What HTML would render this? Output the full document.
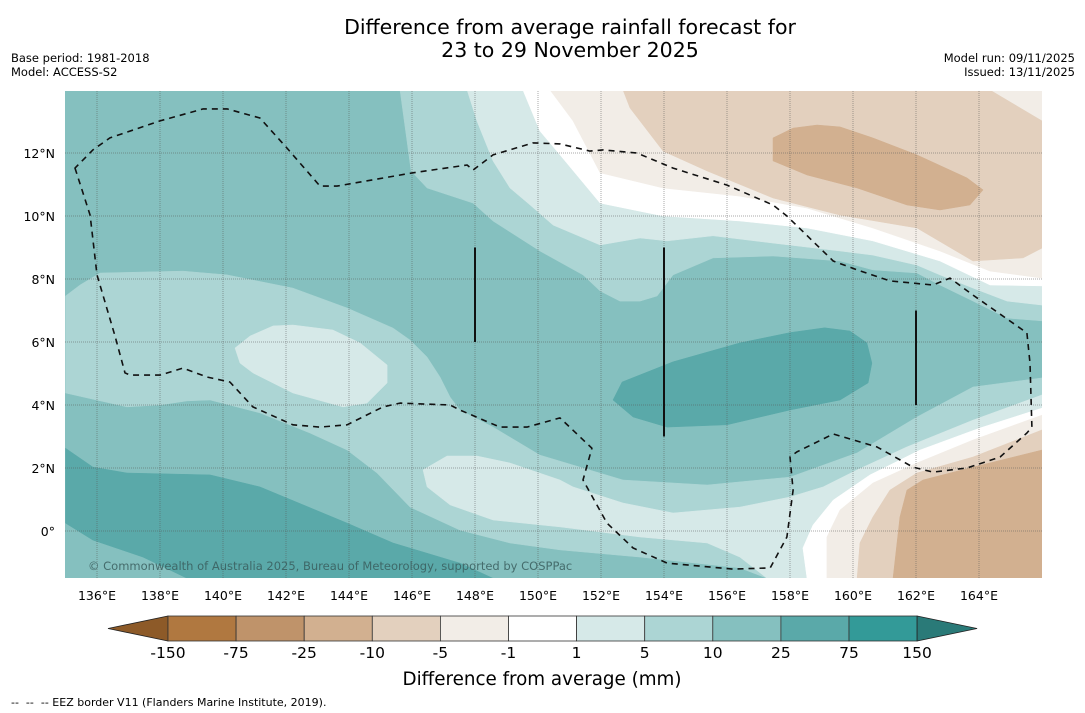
<!DOCTYPE html>
<html><head><meta charset="utf-8"><style>
html,body{margin:0;padding:0;background:#fff;}
svg{display:block;font-family:"DejaVu Sans","Liberation Sans",sans-serif;}
</style></head><body>
<svg id="chart" width="1085" height="713" viewBox="0 0 1085 713">
<defs><clipPath id="mapclip"><rect x="65" y="91" width="977" height="487"/></clipPath></defs>
<text x="570" y="34" font-size="20.5" text-anchor="middle" fill="#000">Difference from average rainfall forecast for</text>
<text x="570" y="57" font-size="20.5" text-anchor="middle" fill="#000">23 to 29 November 2025</text>
<text x="11" y="62" font-size="11.5" fill="#000">Base period: 1981-2018</text>
<text x="11" y="76" font-size="11.5" fill="#000">Model: ACCESS-S2</text>
<text x="1075" y="62" font-size="11.5" text-anchor="end" fill="#000">Model run: 09/11/2025</text>
<text x="1075" y="76" font-size="11.5" text-anchor="end" fill="#000">Issued: 13/11/2025</text>
<g id="map" clip-path="url(#mapclip)"></g>
<g id="axes"></g>
<g id="cbar"></g>
<text x="542" y="685" font-size="18.3" text-anchor="middle" fill="#000">Difference from average (mm)</text>
<text x="11" y="706" font-size="11" fill="#000" style="white-space:pre">--  --  -- EEZ border V11 (Flanders Marine Institute, 2019).</text>
</svg>
<script>
const lonTicks=[136,138,140,142,144,146,148,150,152,154,156,158,160,162,164];
const latTicks=[0,2,4,6,8,10,12];
const cbarLabels=["-150","-75","-25","-10","-5","-1","1","5","10","25","75","150"];
const cbarColors=["#b07840","#bf936a","#d2b090","#e3d0be","#f2ede7","#ffffff","#d6e9e8","#acd5d4","#85c0bf","#5aa9a9","#339a98"];
const upper510=[[145.62,14],[145.97,11.43],[146.48,10.89],[147.94,10.41],[148.57,9.84],[150.06,8.89],[151.43,8.13],[151.97,7.62],[152.6,7.3],[153.24,7.3],[153.78,7.46],[154.29,8.13],[155.56,8.67],[157.46,8.73],[159.59,8.57],[160.63,8.29],[162.03,8.19],[162.76,7.81],[163.81,7.3],[164.89,6.76],[166,6.67],[166,14]];
const upper15=[[147.75,14],[148.06,13.02],[148.57,11.75],[149.11,10.89],[149.75,10.35],[150.48,9.71],[151.97,9.08],[153.24,9.3],[154.1,9.21],[155.56,9.37],[157.46,9.14],[159.59,8.89],[160.63,8.76],[162.03,8.44],[162.76,8.13],[163.81,7.71],[164.89,7.3],[166,7.17],[166,14]];
const upperWhite=[[149.52,14],[150.06,12.7],[150.7,11.94],[151.97,10.41],[153.97,10],[156.41,9.84],[158.54,9.62],[160.63,9.21],[162.76,8.57],[164.35,7.81],[166,7.78],[166,14]];
const upperBeige=[[150.38,14],[151.11,13.02],[151.97,11.37],[153.97,10.89],[156.41,10.63],[158.54,10.25],[160.63,9.62],[162.76,8.89],[164.35,8.25],[166,8.03],[166,14]];
const upperTan=[[152.7,14],[152.92,13.43],[153.97,12.06],[155.37,11.43],[157.46,10.57],[159.59,10.03],[162.03,9.62],[163.81,8.57],[165.4,8.67],[166,8.98],[166,13.02],[164.35,14]];
const upperTanDark=[[157.46,12.48],[158.1,12.79],[158.86,12.89],[159.59,12.83],[160.63,12.48],[162.03,11.94],[163.62,11.21],[164.13,10.83],[163.71,10.35],[162.76,10.19],[161.71,10.35],[160.13,10.89],[158.54,11.3],[157.46,11.75]];
const mid510=[[135,7.46],[135.46,7.81],[136.1,8.19],[138.73,8.25],[140.13,8.13],[142.22,7.71],[143.94,7.08],[145.4,6.44],[145.94,6.06],[146.48,5.52],[146.89,4.89],[147.21,4.25],[147.52,3.84],[148.57,3.3],[150.06,2.41],[152.7,1.62],[155.37,1.46],[158,1.71],[160.13,2.48],[162.03,3.62],[163.81,4.57],[166,4.86],[166,-1.5],[157.27,-1.5],[156.41,-1.17],[153.24,-0.83],[150.7,-0.6],[149.11,-0.38],[147.52,0.03],[145.94,0.76],[144.89,1.84],[143.94,2.57],[142.76,3.11],[141.17,3.75],[139.59,4.16],[138.86,4.13],[138,4],[136.95,3.94],[135,4.38]];
const leftBlob15=[[140.86,6.19],[141.59,6.51],[142.22,6.54],[143.49,6.38],[144.35,5.97],[145.21,5.27],[145.21,4.7],[144.57,4.06],[143.81,3.94],[142.22,4.38],[140.95,5.02],[140.54,5.33],[140.38,5.81]];
const lower15=[[146.35,1.94],[147.11,2.38],[148.06,2.38],[149.11,2.16],[150.7,1.62],[151.11,1.4],[152.7,0.89],[154.29,0.57],[156.41,0.76],[158,1.08],[159.05,1.4],[160.13,1.94],[161.71,2.67],[163.81,3.52],[166,4.32],[166,-1.5],[157.27,-1.5],[156.41,-0.83],[155.37,-0.38],[153.24,-0.19],[150.7,0.13],[148.57,0.35],[147.21,0.83],[146.48,1.4]];
const lowerWhite=[[158.54,-1.5],[158.41,-0.54],[158.73,0.19],[159.37,0.98],[160.54,1.78],[162.13,2.57],[164.03,3.27],[166,3.9],[166,-1.5]];
const lowerBeige=[[159.17,-1.5],[159.17,-0.19],[159.59,0.67],[160.63,1.52],[162.03,2.16],[163.81,2.89],[166,3.68],[166,-1.5]];
const lowerTan=[[160.13,-1.5],[160.22,-0.38],[160.63,0.44],[161.17,1.3],[162.03,1.84],[163.81,2.35],[166,3.21],[166,-1.5]];
const lowerTanDark=[[161.27,-1.5],[161.49,0.44],[161.71,1.3],[162.22,1.62],[163.81,2.03],[166,2.57],[166,-1.5]];
const bottom2575=[[135,2.63],[135.87,2.03],[136.95,1.84],[139.59,1.78],[141.17,1.4],[143.94,0.25],[145.4,-0.38],[147.52,-1.02],[148.57,-1.5],[138.86,-1.5],[137.46,-0.83],[135.87,-0.29],[135,0.25]];
const centerBlob2575=[[152.38,4.16],[152.67,4.73],[154.29,5.37],[156.41,5.97],[158,6.3],[159.1,6.45],[159.9,6.35],[160.44,5.97],[160.6,5.33],[160.48,4.7],[159.59,4.16],[158,3.84],[156,3.37],[154.1,3.3],[153.02,3.62]];
const eezBorder=[[135.3,11.52],[135.78,10.03],[136,8.13],[136.57,6.19],[136.89,5.02],[137.05,4.95],[138,4.95],[138.73,5.17],[139.49,4.89],[140.22,4.73],[140.95,3.94],[142.22,3.37],[143.08,3.3],[143.94,3.37],[145.08,3.94],[145.62,4.06],[147.21,4],[147.52,3.84],[148.79,3.3],[149.65,3.3],[150.7,3.59],[151.71,2.63],[151.43,1.62],[152.19,0.25],[153.02,-0.54],[154.1,-1.02],[156.19,-1.21],[157.37,-1.17],[157.9,-0.19],[158.1,1.3],[158,2.35],[158.22,2.51],[159.37,3.08],[160.76,2.67],[161.9,2.03],[162.54,1.87],[163.62,2.0],[164.67,2.35],[165.52,3.11],[165.68,3.3],[165.62,5.33],[165.52,6.29],[163.81,7.49],[163.08,8.03],[162.54,7.81],[161.17,7.94],[160.13,8.29],[159.37,8.57],[157.9,10.0],[157.46,10.35],[156,10.98],[154.29,11.52],[153.14,12],[152.06,12.1],[151.65,12.06],[150.7,12.29],[149.84,12.32],[148.57,11.94],[147.94,11.46],[147.75,11.62],[146.03,11.37],[143.62,10.95],[143.08,10.95],[142.03,12.16],[141.17,13.11],[140.13,13.4],[139.37,13.4],[138,13.02],[136.41,12.48],[135.87,12.1]];
const boundaryLons=[148,154,162];
const boundaryLatTop=[9,9,7];
const boundaryLatBottom=[6,3,4];

const NS="http://www.w3.org/2000/svg";
const X=lon=>65.5+(lon-135)*31.5;
const Y=lat=>531-lat*31.5;
function mk(tag,parent,attrs){const e=document.createElementNS(NS,tag);for(const k in attrs)e.setAttribute(k,attrs[k]);parent.appendChild(e);return e;}
const pts=a=>a.map(p=>X(p[0]).toFixed(1)+","+Y(p[1]).toFixed(1)).join(" ");
const map=document.getElementById("map");
const bg=mk("rect",map,{x:65,y:91,width:977,height:487,fill:"#85c0bf"});


const layers=[[upper510,"#acd5d4","upper-5-10-region"],[upper15,"#d6e9e8","upper-1-5-region"],[upperWhite,"#ffffff","upper-neutral-region"],[upperBeige,"#f2ede7","upper-minus1-5-region"],[upperTan,"#e3d0be","upper-minus5-10-region"],[upperTanDark,"#d2b090","upper-minus10-25-region"],[mid510,"#acd5d4","middle-5-10-band"],[leftBlob15,"#d6e9e8","left-1-5-region"],[lower15,"#d6e9e8","lower-1-5-region"],[lowerWhite,"#ffffff","lower-neutral-region"],[lowerBeige,"#f2ede7","lower-minus1-5-region"],[lowerTan,"#e3d0be","lower-minus5-10-region"],[lowerTanDark,"#d2b090","lower-minus10-25-region"],[bottom2575,"#5aa9a9","bottom-25-75-band"],[centerBlob2575,"#5aa9a9","center-25-75-region"]];
layers.forEach(l=>{
  const p=mk("polygon",map,{points:pts(l[0]),fill:l[1],"stroke":l[1],"stroke-width":0.5,"stroke-linejoin":"round"});
  
  
});
lonTicks.forEach(v=>{
  const g=mk("line",map,{x1:X(v),x2:X(v),y1:91,y2:578,stroke:"#555","stroke-width":1,"stroke-dasharray":"1 1","stroke-opacity":0.5});
  
  
});
latTicks.forEach(v=>{
  const g=mk("line",map,{x1:65,x2:1042,y1:Y(v),y2:Y(v),stroke:"#555","stroke-width":1,"stroke-dasharray":"1 1","stroke-opacity":0.5});
  
  
});
boundaryLons.forEach((v,i)=>{
  const l=mk("line",map,{x1:X(v),x2:X(v),y1:Y(boundaryLatTop[i]),y2:Y(boundaryLatBottom[i]),stroke:"#111","stroke-width":2});
  
  
});
const eez=mk("polygon",map,{points:pts(eezBorder),fill:"none",stroke:"#111","stroke-width":1.6,"stroke-dasharray":"6 5","stroke-linejoin":"round"});


const cp=mk("text",map,{x:88,y:570,"font-size":11.5,fill:"#3a5d5d","fill-opacity":0.85});
cp.textContent="© Commonwealth of Australia 2025, Bureau of Meteorology, supported by COSPPac";



const axes=document.getElementById("axes");
lonTicks.forEach(v=>{
  const t=mk("text",axes,{x:X(v),y:600,"font-size":12.5,"text-anchor":"middle",fill:"#000"});
  t.textContent=v+"°E";
  
  
});
latTicks.forEach(v=>{
  const t=mk("text",axes,{x:55,y:Y(v)+5,"font-size":12.5,"text-anchor":"end",fill:"#000"});
  t.textContent=v===0?"0°":v+"°N";
  
  
});

const cbar=document.getElementById("cbar");
const cx0=168,cw=68.1,cy=616,ch=25;
const lt=mk("polygon",cbar,{points:`108,${cy+ch/2} ${cx0},${cy} ${cx0},${cy+ch}`,fill:"#8d5a28",stroke:"#222","stroke-width":0.8});


cbarColors.forEach((c,i)=>{
  const r=mk("rect",cbar,{x:cx0+i*cw,y:cy,width:cw,height:ch,fill:c,stroke:"#333","stroke-width":0.8});
  
  
});
const xe=cx0+cbarColors.length*cw;
const rt=mk("polygon",cbar,{points:`${xe},${cy} ${xe+60},${cy+ch/2} ${xe},${cy+ch}`,fill:"#2a7a78",stroke:"#222","stroke-width":0.8});


cbarLabels.forEach((s,i)=>{
  const t=mk("text",cbar,{x:cx0+i*cw,y:658,"font-size":15.5,"text-anchor":"middle",fill:"#000"});
  t.textContent=s;
  
  
});
</script>
</body></html>
